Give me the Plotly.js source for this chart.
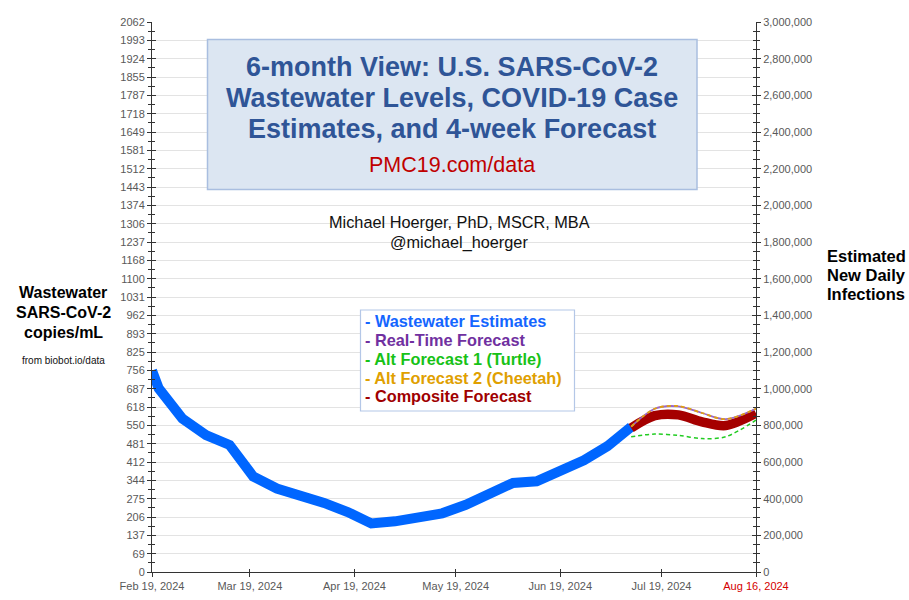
<!DOCTYPE html>
<html>
<head>
<meta charset="utf-8">
<script src="https://cdn.plot.ly/plotly-3.0.1.min.js"></script>
<style>
  html, body { margin: 0; padding: 0; background: #ffffff; }
  #chart { width: 909px; height: 600px; }
</style>
</head>
<body>
<div id="chart"></div>
<script>
// ---------- DATA ----------
const wwDates = ['2024-02-19','2024-02-21','2024-02-28','2024-03-06','2024-03-13','2024-03-20','2024-03-27',
  '2024-04-03','2024-04-10','2024-04-17','2024-04-24','2024-05-01','2024-05-08','2024-05-15','2024-05-22',
  '2024-05-29','2024-06-05','2024-06-12','2024-06-19','2024-06-26','2024-07-03','2024-07-10'];
const wwValues = [755, 688, 575, 513, 476, 358, 313, 288, 259, 225, 182, 190, 204, 220, 252, 288, 334, 340, 380, 419, 472, 544];

const fcDates = ['2024-07-10','2024-07-17','2024-07-24','2024-07-31','2024-08-07','2024-08-16'];
const realTimeValues  = [545, 612, 621, 596, 573, 612];
const turtleValues    = [507, 517, 512, 500, 507, 569];
const cheetahValues   = [545, 612, 622, 596, 573, 612];
const compositeValues = [540, 586, 589, 563, 549, 595];

const xTickDates  = ['2024-02-19','2024-03-19','2024-04-19','2024-05-19','2024-06-19','2024-07-19','2024-08-16'];
const xTickLabels = ['Feb 19, 2024','Mar 19, 2024','Apr 19, 2024','May 19, 2024','Jun 19, 2024','Jul 19, 2024',
  '<span style="color:#d40000">Aug 16, 2024</span>'];

const titleLines  = ['6-month View: U.S. SARS-CoV-2', 'Wastewater Levels, COVID-19 Case', 'Estimates, and 4-week Forecast'];
const titleLink   = 'PMC19.com/data';
const authorLines = ['Michael Hoerger, PhD, MSCR, MBA', '@michael_hoerger'];
const legendItems = ['- Wastewater Estimates','- Real-Time Forecast','- Alt Forecast 1 (Turtle)','- Alt Forecast 2 (Cheetah)','- Composite Forecast'];
const leftTitleLines  = ['Wastewater','SARS-CoV-2','copies/mL'];
const leftSource = 'from biobot.io/data';
const rightTitleLines = ['Estimated','New Daily','Infections'];

// ---------- STYLE / GEOMETRY ----------
const FONT = 'Liberation Sans, Arial, Helvetica, sans-serif';
const W = 909, H = 600, L = 152, R = 153, T = 22, B = 28;
const PW = W - L - R, PH = H - T - B;
const px = x => (x - L) / PW;
const py = y => (H - B - y) / PH;

const Y_MAX = 2061.61, Y_STEP = 68.72;
const Y2_MAX = 3000000;
const X_RANGE = ['2024-02-19', '2024-08-16'];

const traces = [
  { x: wwDates, y: wwValues, type: 'scatter', mode: 'lines',
    line: { color: '#0066ff', width: 10 }, hoverinfo: 'skip' },
  { x: fcDates, y: turtleValues, type: 'scatter', mode: 'lines',
    line: { color: '#22cc22', width: 1.5, dash: '4px,3px', shape: 'spline', smoothing: 0.9 } },
  { x: fcDates, y: compositeValues, type: 'scatter', mode: 'lines',
    line: { color: '#a50000', width: 9.5, shape: 'spline', smoothing: 0.9 } },
  { x: fcDates, y: realTimeValues, type: 'scatter', mode: 'lines',
    line: { color: '#9a66cc', width: 1.8, shape: 'spline', smoothing: 0.9 } },
  { x: fcDates, y: cheetahValues, type: 'scatter', mode: 'lines',
    line: { color: '#e0a010', width: 1.8, dash: '4px,3px', shape: 'spline', smoothing: 0.9 } },
  // anchors for right axis and overlay tick axes
  { x: [], y: [], type: 'scatter', yaxis: 'y2', showlegend: false },
  { x: [], y: [], type: 'scatter', yaxis: 'y3', showlegend: false },
  { x: [], y: [], type: 'scatter', yaxis: 'y4', showlegend: false },
  { x: [], y: [], type: 'scatter', xaxis: 'x2', showlegend: false }
];

const tickFont = { family: FONT, size: 11, color: '#595959' };

const annotations = [];
function addText(text, x, y, opts) {
  annotations.push(Object.assign({
    text: text, xref: 'paper', yref: 'paper', x: px(x), y: py(y),
    showarrow: false, xanchor: 'center', yanchor: 'middle',
    font: { family: FONT, size: 14, color: '#000' }
  }, opts || {}));
}
const titleY = [66.5, 98, 128.5];
titleLines.forEach((t, i) => addText('<b>' + t + '</b>', 452, titleY[i], { font: { family: FONT, size: 27, color: '#2f5597' } }));
addText(titleLink, 452, 165, { font: { family: FONT, size: 21.5, color: '#c00000' } });
const authY = [222, 242];
authorLines.forEach((t, i) => addText(t, 459, authY[i], { font: { family: FONT, size: 16.3, color: '#111' } }));
const legY = [320.5, 340, 359, 377.5, 396];
const legColors = ['#1466ff', '#7030a0', '#17c217', '#e0a000', '#a00000'];
legendItems.forEach((t, i) => addText('<b>' + t + '</b>', 363, legY[i], { xanchor: 'left', font: { family: FONT, size: 16.3, color: legColors[i] } }));
const ltY = [292, 312, 332];
leftTitleLines.forEach((t, i) => addText('<b>' + t + '</b>', 63, ltY[i], { font: { family: FONT, size: 16, color: '#000' } }));
addText(leftSource, 63, 360, { font: { family: FONT, size: 10, color: '#111' } });
const rtY = [256, 275, 294];
rightTitleLines.forEach((t, i) => addText('<b>' + t + '</b>', 866, rtY[i], { font: { family: FONT, size: 16.5, color: '#000' } }));

const shapes = [
  { type: 'rect', xref: 'paper', yref: 'paper', x0: px(207.5), x1: px(697), y0: py(189.5), y1: py(39.5),
    fillcolor: '#dce6f2', line: { color: '#a9bee0', width: 1.5 }, layer: 'above' },
  { type: 'rect', xref: 'paper', yref: 'paper', x0: px(360.5), x1: px(574.5), y0: py(411), y1: py(310),
    fillcolor: '#ffffff', line: { color: '#b4c7e7', width: 1.2 }, layer: 'above' }
];

const layout = {
  width: W, height: H,
  margin: { l: L, r: R, t: T, b: B, pad: 0 },
  paper_bgcolor: '#ffffff', plot_bgcolor: '#ffffff',
  showlegend: false,
  font: { family: FONT },
  xaxis: {
    type: 'date', range: X_RANGE, tickmode: 'array', tickvals: xTickDates, ticktext: xTickLabels,
    ticks: 'outside', ticklen: 4, tickcolor: '#333', tickfont: tickFont,
    showline: true, linecolor: '#333', linewidth: 1, showgrid: false, zeroline: false, fixedrange: true
  },
  xaxis2: {
    type: 'date', range: X_RANGE, overlaying: 'x', anchor: 'y', tickmode: 'array', tickvals: xTickDates,
    ticks: 'inside', ticklen: 3, tickcolor: '#333', showticklabels: false, showgrid: false, showline: false, zeroline: false
  },
  yaxis: {
    range: [0, Y_MAX], tick0: 0, dtick: Y_STEP, tickformat: '.0f',
    ticks: 'outside', ticklen: 4, tickcolor: '#333', tickfont: tickFont,
    showline: true, linecolor: '#333', linewidth: 1,
    showgrid: true, gridcolor: '#e3e3e3', gridwidth: 1, zeroline: false,
    minor: { tick0: 0, dtick: Y_STEP / 2, ticks: 'outside', ticklen: 3, tickcolor: '#333', showgrid: false }
  },
  yaxis3: {
    range: [0, Y_MAX], overlaying: 'y', side: 'left', anchor: 'x', tick0: 0, dtick: Y_STEP,
    ticks: 'inside', ticklen: 4, tickcolor: '#333', showticklabels: false, showgrid: false, showline: false, zeroline: false,
    minor: { tick0: 0, dtick: Y_STEP / 2, ticks: 'inside', ticklen: 3, tickcolor: '#333', showgrid: false }
  },
  yaxis2: {
    range: [0, Y2_MAX], overlaying: 'y', side: 'right', anchor: 'x', tick0: 0, dtick: 200000, tickformat: ',d',
    ticks: 'outside', ticklen: 4, tickcolor: '#333', tickfont: tickFont,
    showline: true, linecolor: '#333', linewidth: 1, showgrid: false, zeroline: false,
    minor: { tick0: 0, dtick: 50000, ticks: 'outside', ticklen: 3, tickcolor: '#333', showgrid: false }
  },
  yaxis4: {
    range: [0, Y2_MAX], overlaying: 'y', side: 'right', anchor: 'x', tick0: 0, dtick: 200000,
    ticks: 'inside', ticklen: 4, tickcolor: '#333', showticklabels: false, showgrid: false, showline: false, zeroline: false,
    minor: { tick0: 0, dtick: 50000, ticks: 'inside', ticklen: 3, tickcolor: '#333', showgrid: false }
  },
  annotations: annotations,
  shapes: shapes
};

Plotly.newPlot('chart', traces, layout, { staticPlot: true, displayModeBar: false });
</script>
</body>
</html>
